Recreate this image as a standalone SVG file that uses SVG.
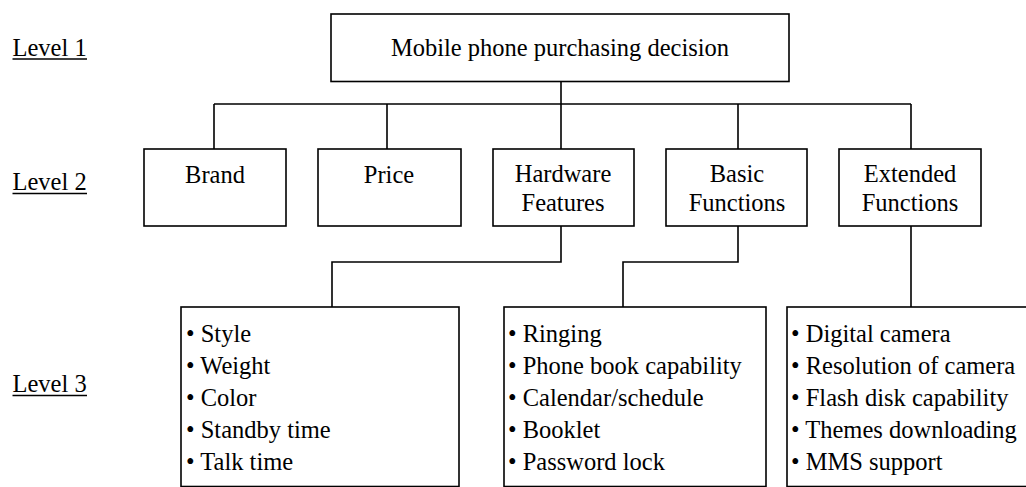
<svg xmlns="http://www.w3.org/2000/svg" width="1026" height="487" viewBox="0 0 1026 487">
<style>
text{font-family:"Liberation Serif","Times New Roman",serif;font-size:24.5px;fill:#000}
.c{text-anchor:middle}
.box{fill:#fff;stroke:#000;stroke-width:1.6}
.ln{fill:none;stroke:#000;stroke-width:1.6}
.ul{stroke:#000;stroke-width:1.3}
</style>
<rect width="1026" height="487" fill="#fff"/>
<g id="labels">
<text x="12.5" y="55.5">Level 1</text><line class="ul" x1="12.5" y1="59" x2="87" y2="59"/>
<text x="12.5" y="190">Level 2</text><line class="ul" x1="12.5" y1="193.5" x2="87" y2="193.5"/>
<text x="12.5" y="392">Level 3</text><line class="ul" x1="12.5" y1="395.5" x2="87" y2="395.5"/>
</g>
<g id="connectors">
<path class="ln" d="M561 82V104M214 104H911M214 104V149M387 104V149M561 104V149M738 104V149M911 104V149"/>
<path class="ln" d="M561 226V262H332V307M738 226V262H623V307M911 226V307"/>
</g>
<g id="root"><rect class="box" x="331" y="14" width="458" height="67.5"/><text class="c" x="560" y="56">Mobile phone purchasing decision</text></g>
<g id="brand"><rect class="box" x="144" y="149" width="142" height="77"/><text class="c" x="215" y="183">Brand</text></g>
<g id="price"><rect class="box" x="318" y="149" width="143" height="77"/><text class="c" x="389" y="183">Price</text></g>
<g id="hardware"><rect class="box" x="493" y="149" width="141" height="77"/><text class="c" x="563" y="182">Hardware</text><text class="c" x="563" y="211">Features</text></g>
<g id="basic"><rect class="box" x="666" y="149" width="141" height="77"/><text class="c" x="737" y="182">Basic</text><text class="c" x="737" y="211">Functions</text></g>
<g id="extended"><rect class="box" x="839" y="149" width="142" height="77"/><text class="c" x="910" y="182">Extended</text><text class="c" x="910" y="211">Functions</text></g>
<g id="hw-items"><rect class="box" x="181" y="307" width="278" height="179.5"/>
<text x="186" y="341.5">• Style</text><text x="186" y="373.5">• Weight</text><text x="186" y="405.5">• Color</text><text x="186" y="437.5">• Standby time</text><text x="186" y="469.5">• Talk time</text></g>
<g id="basic-items"><rect class="box" x="504" y="307" width="262" height="179.5"/>
<text x="508" y="341.5">• Ringing</text><text x="508" y="373.5">• Phone book capability</text><text x="508" y="405.5">• Calendar/schedule</text><text x="508" y="437.5">• Booklet</text><text x="508" y="469.5">• Password lock</text></g>
<g id="ext-items"><rect class="box" x="787" y="307" width="260" height="179.5"/>
<text x="791" y="341.5">• Digital camera</text><text x="791" y="373.5">• Resolution of camera</text><text x="791" y="405.5">• Flash disk capability</text><text x="791" y="437.5">• Themes downloading</text><text x="791" y="469.5">• MMS support</text></g>
</svg>
